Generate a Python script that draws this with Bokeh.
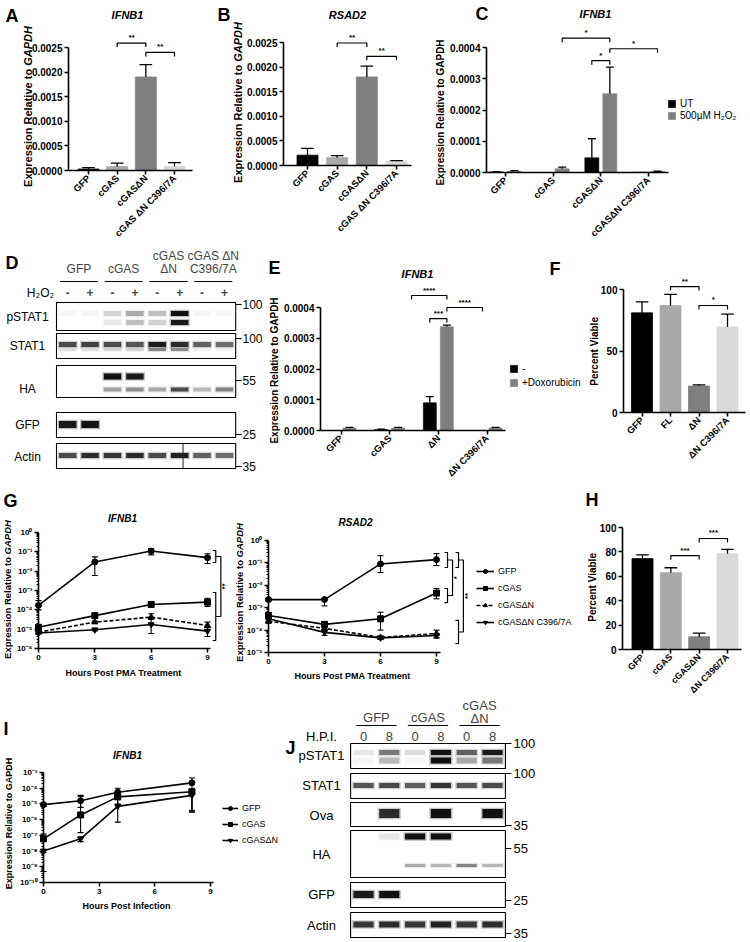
import math
from bokeh.plotting import figure
from bokeh.models import (Range1d, FixedTicker, NumeralTickFormatter, Label,
                          Legend, LegendItem)
from bokeh.layouts import row, column
from bokeh.embed import file_html
from bokeh.resources import INLINE

FONT = "Liberation Sans"

# ============================ DATA ============================
BAR4_COLORS = ["#000000", "#a9a9a9", "#7f7f7f", "#d9d9d9"]

# Panel A  (IFNB1)
A_labels = ["GFP", "cGAS", "cGASΔN", "cGAS ΔN C396/7A"]
A_mean = [0.00003, 0.00008, 0.00190, 0.00008]
A_sem = [0.00003, 0.00007, 0.00025, 0.00008]
A_yticks = [0.0, 0.0005, 0.0010, 0.0015, 0.0020, 0.0025]
A_sig = [(2, 3, 0.00259, "**"), (3, 4, 0.00240, "**")]

# Panel B  (RSAD2)
B_labels = ["GFP", "cGAS", "cGASΔN", "cGAS ΔN C396/7A"]
B_mean = [0.00021, 0.00016, 0.00180, 0.00009]
B_sem = [0.00014, 0.00004, 0.00022, 0.00001]
B_yticks = [0.0, 0.0005, 0.0010, 0.0015, 0.0020, 0.0025]
B_sig = [(2, 3, 0.00249, "**"), (3, 4, 0.00222, "**")]

# Panel C  (IFNB1, UT vs H2O2)
C_labels = ["GFP", "cGAS", "cGASΔN", "cGASΔN C396/7A"]
C_series = ["UT", "500µM H₂O₂"]
C_ut = [0.000002, 0.0, 0.000047, 0.000001]
C_ut_sem = [0.000001, 0.0, 0.000061, 0.0]
C_h2o2 = [0.000004, 0.000012, 0.000252, 0.000003]
C_h2o2_sem = [0.000002, 0.000005, 0.000085, 0.000001]
C_yticks = [0.0, 0.0001, 0.0002, 0.0003, 0.0004]
C_sig = [((2, 1), (3, 1), 0.000430, "*"), ((3, -1), (3, 1), 0.000358, "*"),
         ((3, 1), (4, 1), 0.000396, "*")]

# Panel E  (IFNB1, - vs Doxorubicin)
E_labels = ["GFP", "cGAS", "ΔN", "ΔN C396/7A"]
E_series = ["-", "+Doxorubicin"]
E_minus = [0.0, 0.000003, 0.000090, 0.0]
E_minus_sem = [0.0, 0.000001, 0.000020, 0.0]
E_doxo = [0.000008, 0.000008, 0.000337, 0.000008]
E_doxo_sem = [0.000002, 0.000002, 0.000006, 0.000002]
E_yticks = [0.0, 0.0001, 0.0002, 0.0003, 0.0004]
E_sig = [(2.45, 3.176, 0.000439, "****"), (2.824, 3.176, 0.000364, "***"),
         (3.176, 3.907, 0.000400, "****")]

# Panel F  (viability)
F_labels = ["GFP", "FL", "ΔN", "ΔN C396/7A"]
F_mean = [81.0, 87.0, 21.5, 69.5]
F_sem = [9.0, 9.0, 1.0, 10.5]
F_yticks = [0, 50, 100]
F_sig = [(2, 3, 102.4, "**"), (3, 4, 87.0, "*")]

# Panel G  (time course after PMA)
G_hours = [0, 3, 6, 9]
G_names = ["GFP", "cGAS", "cGASΔN", "cGASΔN C396/7A"]
GL_mean = [[1.7e-4, 3.0e-2, 1.1e-1, 5.0e-2],
           [1.25e-5, 5.0e-5, 1.9e-4, 2.5e-4],
           [7.0e-6, 2.3e-5, 4.2e-5, 1.55e-5],
           [6.3e-6, 9.3e-6, 1.74e-5, 7.9e-6]]
GL_lo = [[1.0e-4, 6.0e-3, 7.0e-2, 2.5e-2],
         [1.0e-5, 4.0e-5, 1.4e-4, 1.5e-4],
         [6.0e-6, 2.0e-5, 3.2e-5, 1.2e-5],
         [5.5e-6, 8.0e-6, 6.0e-6, 4.2e-6]]
GL_hi = [[3.0e-4, 5.5e-2, 1.5e-1, 8.0e-2],
         [1.6e-5, 6.3e-5, 2.5e-4, 4.0e-4],
         [8.0e-6, 2.6e-5, 6.3e-5, 2.3e-5],
         [7.0e-6, 1.1e-5, 3.5e-5, 1.25e-5]]
GR_mean = [[2.3e-3, 2.3e-3, 9.0e-2, 1.4e-1],
           [4.5e-4, 1.8e-4, 3.2e-4, 4.5e-3],
           [2.5e-4, 1.2e-4, 4.7e-5, 7.0e-5],
           [3.2e-4, 7.9e-5, 4.5e-5, 5.7e-5]]
GR_lo = [[2.0e-3, 1.2e-3, 3.7e-2, 7.6e-2],
         [3.5e-4, 1.5e-4, 1.0e-4, 2.5e-3],
         [2.0e-4, 1.0e-4, 4.0e-5, 4.5e-5],
         [2.5e-4, 5.8e-5, 4.0e-5, 4.5e-5]]
GR_hi = [[2.6e-3, 2.6e-3, 2.1e-1, 2.6e-1],
         [5.5e-4, 2.2e-4, 6.3e-4, 7.2e-3],
         [3.0e-4, 1.4e-4, 5.5e-5, 1.0e-4],
         [4.0e-4, 1.1e-4, 5.0e-5, 7.0e-5]]
G_markers = ["circle", "square", "triangle", "inverted_triangle"]
G_dash = ["solid", "solid", "4 2", "solid"]
GL_sig = [dict(x=9.44, a=(0.117, 0.028), b=(7.9e-4, 2.6e-6), xc=9.71, label="**")]
GR_sig = [dict(x=9.59, a=(0.291, 0.0623), b=(7.2e-3, 1.7e-3), xc=9.86, label="*"),
          dict(x=10.18, a=(0.291, 0.0623), b=(2.7e-4, 2.5e-5), xc=10.44, label="**")]

# Panel H (viability)
H_labels = ["GFP", "cGAS", "cGASΔN", "ΔN C396/7A"]
H_mean = [74.5, 63.0, 10.5, 78.5]
H_sem = [3.0, 4.0, 3.0, 3.5]
H_yticks = [0, 20, 40, 60, 80, 100]
H_sig = [(2, 3, 77.0, "***"), (3, 4, 91.0, "***")]

# Panel I (infection time course)
I_hours = [0, 2, 4, 8]
I_xticks = [0, 3, 6, 9]
I_names = ["GFP", "cGAS", "cGASΔN"]
I_mean = [[9e-6, 1.6e-5, 5.5e-5, 2.2e-4],
          [6e-8, 2e-6, 2.8e-5, 6e-5],
          [1e-8, 6e-8, 7e-6, 3.5e-5]]
I_lo = [[7e-6, 6e-6, 2.5e-5, 3.5e-6],
        [5e-10, 1.5e-7, 1.0e-5, 4e-6],
        [8e-9, 4e-8, 7e-7, 3e-6]]
I_hi = [[1.1e-5, 3.5e-5, 1.0e-4, 4.5e-4],
        [1.2e-7, 3.0e-5, 5.0e-5, 9e-5],
        [1.3e-8, 8e-8, 2e-5, 6e-5]]
I_markers = ["circle", "square", "inverted_triangle"]

# Panel D (western blot, 8 lanes)
D_groups = [["GFP"], ["cGAS"], ["cGAS", "ΔN"], ["cGAS ΔN", "C396/7A"]]
D_treat = ["-", "+", "-", "+", "-", "+", "-", "+"]
D_rows = ["pSTAT1", "STAT1", "HA", "GFP", "Actin"]
D_mw = ["100", "100", "55", "25", "35"]
D_bands = [
    [(313, 5, [0.03, 0.03, 0.14, 0.30, 0.22, 1.00, 0.03, 0.02]),
     (322, 5, [0.00, 0.00, 0.08, 0.22, 0.16, 0.95, 0.00, 0.00])],
    [(344, 5, [0.70, 0.75, 0.70, 0.65, 0.95, 0.85, 0.60, 0.55]),
     (349, 3, [0.10, 0.10, 0.15, 0.15, 0.45, 0.40, 0.05, 0.05])],
    [(376, 6, [0.00, 0.00, 1.00, 0.95, 0.00, 0.00, 0.00, 0.00]),
     (389, 4, [0.00, 0.00, 0.35, 0.40, 0.30, 0.70, 0.25, 0.45])],
    [(424, 7, [0.95, 1.00, 0.00, 0.00, 0.00, 0.00, 0.00, 0.00])],
    [(455, 5, [0.70, 0.85, 0.80, 0.85, 0.70, 0.90, 0.60, 0.55])],
]

# Panel J (western blot, 6 lanes)
J_groups = [["GFP"], ["cGAS"], ["cGAS", "ΔN"]]
J_hpi = ["0", "8", "0", "8", "0", "8"]
J_rows = ["pSTAT1", "STAT1", "Ova", "HA", "GFP", "Actin"]
J_mw = ["100", "100", "35", "55", "25", "35"]
J_bands = [
    [(752, 5, [0.08, 0.50, 0.12, 1.00, 0.60, 0.95]),
     (760, 6, [0.03, 0.25, 0.03, 1.00, 0.30, 0.50])],
    [(785, 5, [0.65, 0.70, 0.60, 0.80, 0.65, 0.70])],
    [(813, 9, [0.00, 0.85, 0.00, 1.00, 0.00, 1.00])],
    [(836, 6, [0.00, 0.08, 1.00, 1.00, 0.00, 0.00]),
     (865, 3, [0.00, 0.00, 0.30, 0.25, 0.45, 0.25])],
    [(894, 7, [0.95, 1.00, 0.00, 0.00, 0.00, 0.00])],
    [(924, 6, [0.80, 0.85, 0.80, 0.90, 0.80, 0.85])],
]

SUP = {"-": "⁻", "0": "⁰", "1": "¹", "2": "²", "3": "³", "4": "⁴",
       "5": "⁵", "6": "⁶", "7": "⁷", "8": "⁸", "9": "⁹"}

# approximate Arial-Bold advance widths (em) for splitting axis titles
W_BOLD = {"E": .667, "x": .556, "p": .611, "r": .389, "e": .556, "s": .556, "i": .278,
          "o": .611, "n": .611, " ": .278, "R": .722, "l": .278, "a": .556, "t": .333,
          "v": .556, "G": .778, "A": .722, "P": .667, "D": .722, "H": .722}


# ============================ HELPERS ============================
class Pan:
    """Maps page pixel positions to a figure's data coordinates."""
    def __init__(self, canvas, xa, xb, ya, yb, ylog=False):
        self.canvas, self.ylog = canvas, ylog
        self.kx = (xb[1] - xa[1]) / (xb[0] - xa[0])
        self.xa = xa
        f = math.log10 if ylog else (lambda v: v)
        self.ky = (f(yb[1]) - f(ya[1])) / (yb[0] - ya[0])
        self.ya = (ya[0], f(ya[1]))

    def X(self, px):
        return self.xa[1] + (px - self.xa[0]) * self.kx

    def Y(self, py):
        v = self.ya[1] + (py - self.ya[0]) * self.ky
        return 10 ** v if self.ylog else v

    def dx(self, n):
        return n * self.kx

    def dy(self, n):
        return -n * self.ky


def mkfig(P):
    cx0, cy0, cx1, cy1 = P.canvas
    p = figure(width=int(cx1 - cx0), height=int(cy1 - cy0),
               x_range=Range1d(P.X(cx0), P.X(cx1)),
               y_range=Range1d(P.Y(cy1), P.Y(cy0)),
               y_axis_type="log" if P.ylog else "linear",
               output_backend="svg", toolbar_location=None,
               min_border_left=0, min_border_right=0,
               min_border_top=0, min_border_bottom=0)
    p.title.visible = False
    p.outline_line_color = None
    p.background_fill_color = "white"
    p.border_fill_color = "white"
    p.xgrid.visible = False
    p.ygrid.visible = False
    return p


def style_axes(p, tick_fs="10px"):
    for ax in p.axis:
        ax.axis_line_width = 1.6
        ax.axis_line_color = "black"
        ax.major_tick_line_width = 1.6
        ax.major_tick_line_color = "black"
        ax.major_tick_out = 4
        ax.major_tick_in = 0
        ax.minor_tick_line_color = None
        ax.major_label_text_font = FONT
        ax.major_label_text_font_style = "bold"
        ax.major_label_text_font_size = tick_fs
        ax.major_label_text_color = "black"
        ax.major_label_standoff = 2


def txt(p, P, px, py, s, size="11px", style="normal", align="center",
        baseline="middle", angle=0.0):
    p.add_layout(Label(x=P.X(px), y=P.Y(py), text=s, text_font=FONT,
                       text_font_size=size, text_font_style=style,
                       text_align=align, text_baseline=baseline, angle=angle,
                       text_color="black"))


def ytitle(p, P, cx, cy, parts, size):
    """Rotated (bottom-to-top) axis title made of differently styled parts."""
    ws = [sum(W_BOLD.get(c, 0.6) for c in s) * size for s, _ in parts]
    start = cy + sum(ws) / 2.0
    for (s, style), w in zip(parts, ws):
        txt(p, P, cx, start, s, "%gpx" % size, style, "left", "middle", math.pi / 2)
        start -= w


def cat_axes(p, P, labels, y_axis_px, x_end_px, fs="9.5px"):
    p.xaxis.ticker = FixedTicker(ticks=list(range(1, len(labels) + 1)))
    p.xaxis.major_label_overrides = {i + 1: l for i, l in enumerate(labels)}
    p.xaxis.major_label_orientation = math.pi / 4
    p.xaxis.major_label_text_font_size = fs
    p.xaxis.bounds = (P.X(y_axis_px), P.X(x_end_px))
    p.xaxis.fixed_location = 0
    p.yaxis.fixed_location = P.X(y_axis_px)


def lin_yaxis(p, ticks, fmt):
    p.yaxis.ticker = FixedTicker(ticks=ticks)
    p.yaxis.formatter = NumeralTickFormatter(format=fmt)
    p.yaxis.bounds = (ticks[0], ticks[-1])


def err_up(p, xs, tops, errs, capw, lw=1.3):
    pts = [(x, t, e) for x, t, e in zip(xs, tops, errs) if e > 0]
    if not pts:
        return
    x = [a for a, _, _ in pts]
    t = [b for _, b, _ in pts]
    hi = [b + c for _, b, c in pts]
    p.segment(x0=x, y0=t, x1=x, y1=hi, line_color="black", line_width=lw)
    p.segment(x0=[v - capw for v in x], y0=hi, x1=[v + capw for v in x], y1=hi,
              line_color="black", line_width=lw)


def hbracket(p, P, x1, x2, y, label, drop=4, fs="8px"):
    d = P.dy(drop)
    p.line([x1, x1, x2, x2], [y - d, y, y, y - d], line_color="black", line_width=1.2)
    p.add_layout(Label(x=(x1 + x2) / 2, y=y + P.dy(1), text=label, text_font=FONT,
                       text_font_size=fs, text_font_style="bold", text_align="center",
                       text_baseline="bottom", text_color="black"))


def vbrackets(p, P, spec, fs="8px"):
    t = P.dx(3)
    for s in spec:
        x, xc = s["x"], s["xc"]
        for hi, lo in (s["a"], s["b"]):
            p.line([x - t, x, x, x - t], [hi, hi, lo, lo], line_color="black", line_width=1.2)
        ma = math.sqrt(s["a"][0] * s["a"][1])
        mb = math.sqrt(s["b"][0] * s["b"][1])
        p.line([x, xc, xc, x], [ma, ma, mb, mb], line_color="black", line_width=1.2)
        p.add_layout(Label(x=xc + P.dx(4), y=math.sqrt(ma * mb), text=s["label"],
                           text_font=FONT, text_font_size=fs, text_font_style="bold",
                           text_align="center", text_baseline="middle",
                           angle=math.pi / 2, text_color="black"))


def log_axes(p, P, kmin, kmax, xticks, x_end_px):
    ticks = [10.0 ** k for k in range(kmin, kmax + 1)]
    minors = [m * 10.0 ** k for k in range(kmin, kmax) for m in range(2, 10)]
    p.yaxis.ticker = FixedTicker(ticks=ticks, minor_ticks=minors)
    p.yaxis.major_label_overrides = {
        10.0 ** k: "10" + "".join(SUP[c] for c in str(k)) for k in range(kmin, kmax + 1)}
    p.yaxis.minor_tick_line_color = "black"
    p.yaxis.minor_tick_line_width = 1.0
    p.yaxis.minor_tick_out = 2
    p.yaxis.minor_tick_in = 0
    p.yaxis.fixed_location = 0
    p.yaxis.bounds = (ticks[0], ticks[-1])
    p.xaxis.ticker = FixedTicker(ticks=xticks)
    p.xaxis.bounds = (0, P.X(x_end_px))
    p.xaxis.fixed_location = ticks[0]


def series(p, P, xs, mean, lo, hi, marker, dash):
    lr = p.line(xs, mean, line_color="black", line_width=1.6, line_dash=dash)
    sr = p.scatter(xs, mean, marker=marker, size=6, fill_color="black", line_color="black")
    cw = P.dx(3)
    p.segment(x0=xs, y0=lo, x1=xs, y1=hi, line_color="black", line_width=1.1)
    p.segment(x0=[x - cw for x in xs], y0=lo, x1=[x + cw for x in xs], y1=lo,
              line_color="black", line_width=1.1)
    p.segment(x0=[x - cw for x in xs], y0=hi, x1=[x + cw for x in xs], y1=hi,
              line_color="black", line_width=1.1)
    return lr, sr


def mk_legend(items, loc, fs, gw, gh, lh, spacing=1):
    return Legend(items=[LegendItem(label=l, renderers=r) for l, r in items],
                  location=loc, label_text_font=FONT, label_text_font_size=fs,
                  label_text_color="black", glyph_width=gw, glyph_height=gh,
                  label_height=lh, spacing=spacing, padding=0, margin=0,
                  border_line_color=None, background_fill_alpha=0, label_standoff=4)


def simple_bars(P, labels, mean, sem, colors, bar_px, y_axis_px, x_end_px, yticks, fmt, sig,
                label_fs="9.5px"):
    p = mkfig(P)
    style_axes(p)
    xs = list(range(1, len(labels) + 1))
    w = P.dx(bar_px)
    p.vbar(x=xs, top=mean, bottom=0, width=w, fill_color=colors, line_color=colors,
           line_width=0.8)
    err_up(p, xs, mean, sem, P.dx(bar_px * 0.3))
    cat_axes(p, P, labels, y_axis_px, x_end_px, label_fs)
    lin_yaxis(p, yticks, fmt)
    for a, b, y, s in sig:
        hbracket(p, P, a, b, y, s)
    return p


def blot_fig(P):
    p = mkfig(P)
    p.xaxis.visible = False
    p.yaxis.visible = False
    return p


def blot(p, P, box_rows, bands, lane_n, band_w=0.78):
    lanes = list(range(1, lane_n + 1))
    for (yt, yb) in box_rows:
        p.rect(x=(lane_n + 1) / 2, y=(yt + yb) / 2, width=lane_n, height=yb - yt,
               fill_color=None, line_color="black", line_width=1.1)
    for rb in bands:
        for (yc, h, inten) in rb:
            p.rect(x=lanes, y=[yc] * lane_n, width=band_w + 0.12, height=h + 2.5,
                   fill_color="#222222", fill_alpha=[v * 0.3 for v in inten], line_color=None)
            p.rect(x=lanes, y=[yc] * lane_n, width=band_w, height=h,
                   fill_color="#111111", fill_alpha=inten, line_color=None)


EXPR_IT = [("Expression Relative to ", "bold"), ("GAPDH", "bold italic")]
EXPR = [("Expression Relative to GAPDH", "bold")]

ROW3_BOTTOM = 697

# ============================ PANEL A ============================
PA = Pan((0, 0, 215, 245), (88, 1), (174, 4), (170, 0.0), (47, 0.0025))
pA = simple_bars(PA, A_labels, A_mean, A_sem, BAR4_COLORS, 21, 68, 192, A_yticks, "0.0000", A_sig)
txt(pA, PA, 127, 14, "IFNB1", "11px", "bold italic")
txt(pA, PA, 5, 15, "A", "18px", "bold", "left")
ytitle(pA, PA, 27, 106, EXPR_IT, 11)

# ============================ PANEL B ============================
PB = Pan((215, 0, 431, 245), (307, 1), (396, 4), (165, 0.0), (42, 0.0025))
pB = simple_bars(PB, B_labels, B_mean, B_sem, BAR4_COLORS, 21, 283, 411, B_yticks, "0.0000", B_sig)
txt(pB, PB, 347, 14, "RSAD2", "11px", "bold italic")
txt(pB, PB, 217, 14, "B", "18px", "bold", "left")
ytitle(pB, PB, 237, 102, EXPR_IT, 11)

# ============================ PANEL C ============================
PC = Pan((431, 0, 750, 245), (505, 1), (648, 4), (172, 0.0), (47, 0.0004))
pC = mkfig(PC)
style_axes(pC)
off, bw = PC.dx(9), PC.dx(14)
xs = [1, 2, 3, 4]
r_ut = pC.vbar(x=[x - off for x in xs], top=C_ut, bottom=0, width=bw,
               fill_color="#000000", line_color="#000000", line_width=0.6)
r_h2 = pC.vbar(x=[x + off for x in xs], top=C_h2o2, bottom=0, width=bw,
               fill_color="#808080", line_color="#808080", line_width=0.6)
err_up(pC, [x - off for x in xs], C_ut, C_ut_sem, PC.dx(4))
err_up(pC, [x + off for x in xs], C_h2o2, C_h2o2_sem, PC.dx(4))
cat_axes(pC, PC, C_labels, 486, 668)
lin_yaxis(pC, C_yticks, "0.0000")
for (g1, s1), (g2, s2), y, s in C_sig:
    hbracket(pC, PC, g1 + s1 * off, g2 + s2 * off, y, s)
txt(pC, PC, 595, 13, "IFNB1", "11px", "bold italic")
txt(pC, PC, 475, 13, "C", "18px", "bold", "left")
ytitle(pC, PC, 440, 112, EXPR, 10)
pC.add_layout(mk_legend([(C_series[0], [r_ut]), (C_series[1], [r_h2])],
                        (236, 124), "10px", 9, 9, 10))

# ============================ PANEL D ============================
PD = Pan((0, 245, 265, 490), (67.2, 1), (89.6, 2), (245, 245), (490, 490))
pD = blot_fig(PD)
D_box = [(302, 330), (333, 358), (365, 397), (412, 437), (443, 468)]
blot(pD, PD, D_box, D_bands, 8)
pD.segment(x0=[6.15], y0=[443], x1=[6.15], y1=[468], line_color="#222222", line_width=1)
for i, lines in enumerate(D_groups):
    cx = 1.5 + 2 * i
    if len(lines) == 1:
        pD.add_layout(Label(x=cx, y=268, text=lines[0], text_font=FONT, text_font_size="12px",
                            text_align="center", text_baseline="middle"))
    else:
        for j, ln in enumerate(lines):
            pD.add_layout(Label(x=cx, y=255 + 13 * j, text=ln, text_font=FONT,
                                text_font_size="12px", text_align="center",
                                text_baseline="middle"))
    pD.segment(x0=[cx - 0.85], y0=[281], x1=[cx + 0.85], y1=[281], line_color="black",
               line_width=1)
for k, s in enumerate(D_treat):
    pD.add_layout(Label(x=k + 1, y=292, text=s, text_font=FONT, text_font_size="12px",
                        text_font_style="bold", text_align="center", text_baseline="middle"))
txt(pD, PD, 40, 292, "H₂O₂", "12px", "normal")
D_label_y = [316, 345, 388, 424, 456]
for s, y in zip(D_rows, D_label_y):
    txt(pD, PD, 27, y, s, "12px", "normal")
D_mw_y = [304, 338, 380, 434, 466]
for s, y in zip(D_mw, D_mw_y):
    pD.segment(x0=[8.5], y0=[y], x1=[8.5 + PD.dx(6)], y1=[y], line_color="black", line_width=1)
    txt(pD, PD, 242, y, s, "12px", "normal", "left")
txt(pD, PD, 5, 262, "D", "18px", "bold", "left")

# ============================ PANEL E ============================
PE = Pan((265, 245, 583, 490), (340.5, 1), (486.5, 4), (430, 0.0), (307, 0.0004))
pE = mkfig(PE)
style_axes(pE)
off, bw = PE.dx(8.5), PE.dx(13)
r_m = pE.vbar(x=[x - off for x in xs], top=E_minus, bottom=0, width=bw,
              fill_color="#000000", line_color="#000000", line_width=0.6)
r_d = pE.vbar(x=[x + off for x in xs], top=E_doxo, bottom=0, width=bw,
              fill_color="#808080", line_color="#808080", line_width=0.6)
err_up(pE, [x - off for x in xs], E_minus, E_minus_sem, PE.dx(4))
err_up(pE, [x + off for x in xs], E_doxo, E_doxo_sem, PE.dx(4))
cat_axes(pE, PE, E_labels, 320, 505)
lin_yaxis(pE, E_yticks, "0.0000")
for a, b, y, s in E_sig:
    hbracket(pE, PE, a, b, y, s)
txt(pE, PE, 417, 273, "IFNB1", "11px", "bold italic")
txt(pE, PE, 268, 267, "E", "18px", "bold", "left")
txt(pE, PE, 549, 268, "F", "18px", "bold", "left")
ytitle(pE, PE, 274, 370, EXPR, 10)
pE.add_layout(mk_legend([(E_series[0], [r_m]), (E_series[1], [r_d])],
                        (244, 101), "10px", 9, 9, 13))

# ============================ PANEL F ============================
PF = Pan((583, 245, 750, 490), (641.5, 1), (727, 4), (412, 0.0), (289, 100.0))
pF = simple_bars(PF, F_labels, F_mean, F_sem, BAR4_COLORS, 21, 623, 745, F_yticks, "0", F_sig)
ytitle(pF, PF, 594, 351, [("Percent Viable", "bold")], 10)

# ============================ PANEL G ============================
PGL = Pan((0, 490, 231, ROW3_BOTTOM), (38, 0), (207, 9), (648, 1e-6), (532, 1.0), ylog=True)
pGL = mkfig(PGL)
style_axes(pGL, "8px")
for i in range(4):
    series(pGL, PGL, G_hours, GL_mean[i], GL_lo[i], GL_hi[i], G_markers[i], G_dash[i])
log_axes(pGL, PGL, -6, 0, G_hours, 210)
vbrackets(pGL, PGL, GL_sig)
txt(pGL, PGL, 122, 518, "IFNB1", "10px", "bold italic")
txt(pGL, PGL, 3, 500, "G", "18px", "bold", "left")
ytitle(pGL, PGL, 7, 589, EXPR_IT, 9.5)
txt(pGL, PGL, 123, 672, "Hours Post PMA Treatment", "9px", "bold")

PGR = Pan((231, 490, 583, ROW3_BOTTOM), (268, 0), (436, 9), (652, 1e-5), (540, 1.0), ylog=True)
pGR = mkfig(PGR)
style_axes(pGR, "8px")
g_items = []
for i in range(4):
    lr, sr = series(pGR, PGR, G_hours, GR_mean[i], GR_lo[i], GR_hi[i], G_markers[i], G_dash[i])
    g_items.append((G_names[i], [lr, sr]))
log_axes(pGR, PGR, -5, 0, G_hours, 440)
vbrackets(pGR, PGR, GR_sig)
txt(pGR, PGR, 355, 522, "RSAD2", "10px", "bold italic")
ytitle(pGR, PGR, 239, 592, EXPR_IT, 9.5)
txt(pGR, PGR, 352, 675, "Hours Post PMA Treatment", "9px", "bold")
pGR.add_layout(mk_legend(g_items, (245, ROW3_BOTTOM - 630), "9px", 18, 10, 16))

# ============================ PANEL H ============================
PH = Pan((583, 490, 750, ROW3_BOTTOM), (642, 1), (727, 4), (649, 0.0), (527, 100.0))
pH = simple_bars(PH, H_labels, H_mean, H_sem, BAR4_COLORS, 21, 622, 741, H_yticks, "0", H_sig,
                 label_fs="9px")
txt(pH, PH, 585, 499, "H", "18px", "bold", "left")
ytitle(pH, PH, 592, 587, [("Percent Viable", "bold")], 10)

# ============================ PANEL I ============================
PI = Pan((0, ROW3_BOTTOM, 284, 942), (43, 0), (210, 9), (882, 1e-10), (772, 1e-3), ylog=True)
pI = mkfig(PI)
style_axes(pI, "8px")
i_items = []
for i in range(3):
    lr, sr = series(pI, PI, I_hours, I_mean[i], I_lo[i], I_hi[i], I_markers[i], "solid")
    i_items.append((I_names[i], [lr, sr]))
log_axes(pI, PI, -10, -3, I_xticks, 213)
txt(pI, PI, 127, 755, "IFNB1", "10px", "bold italic")
txt(pI, PI, 3, 728, "I", "18px", "bold", "left")
ytitle(pI, PI, 8, 823, EXPR, 9)
txt(pI, PI, 126, 905, "Hours Post Infection", "9px", "bold")
pI.add_layout(mk_legend(i_items, (222, 95), "9px", 16, 10, 15))

# ============================ PANEL J ============================
PJ = Pan((284, ROW3_BOTTOM, 750, 942), (363, 1), (388.8, 2), (942, 942),
         (ROW3_BOTTOM, ROW3_BOTTOM))
pJ = blot_fig(PJ)
J_box = [(743, 768), (773, 798), (802, 826), (830, 877), (882, 907), (912, 937)]
blot(pJ, PJ, J_box, J_bands, 6)
for i, lines in enumerate(J_groups):
    cx = 1.5 + 2 * i
    if len(lines) == 1:
        pJ.add_layout(Label(x=cx, y=717, text=lines[0], text_font=FONT, text_font_size="13px",
                            text_align="center", text_baseline="middle"))
    else:
        for j, ln in enumerate(lines):
            pJ.add_layout(Label(x=cx, y=705 + 12.5 * j, text=ln, text_font=FONT,
                                text_font_size="13px", text_align="center",
                                text_baseline="middle"))
    pJ.segment(x0=[cx - 0.78], y0=[725], x1=[cx + 0.78], y1=[725], line_color="black",
               line_width=1)
for k, s in enumerate(J_hpi):
    pJ.add_layout(Label(x=k + 1, y=736, text=s, text_font=FONT, text_font_size="13px",
                        text_align="center", text_baseline="middle"))
txt(pJ, PJ, 321, 736, "H.P.I.", "13px", "normal")
J_label_y = [755, 785, 815, 854, 894, 925]
for s, y in zip(J_rows, J_label_y):
    txt(pJ, PJ, 321, y, s, "13px", "normal")
J_mw_y = [743, 773, 825, 848, 900, 933]
for s, y in zip(J_mw, J_mw_y):
    pJ.segment(x0=[6.5], y0=[y], x1=[6.5 + PJ.dx(6)], y1=[y], line_color="black", line_width=1)
    txt(pJ, PJ, 513, y, s, "13px", "normal", "left")
txt(pJ, PJ, 285, 747, "J", "18px", "bold", "left")

# ============================ LAYOUT ============================
layout = column(row(pA, pB, pC), row(pD, pE, pF), row(pGL, pGR, pH), row(pI, pJ))

with open("out.html", "w") as f:
    f.write(file_html(layout, INLINE))
